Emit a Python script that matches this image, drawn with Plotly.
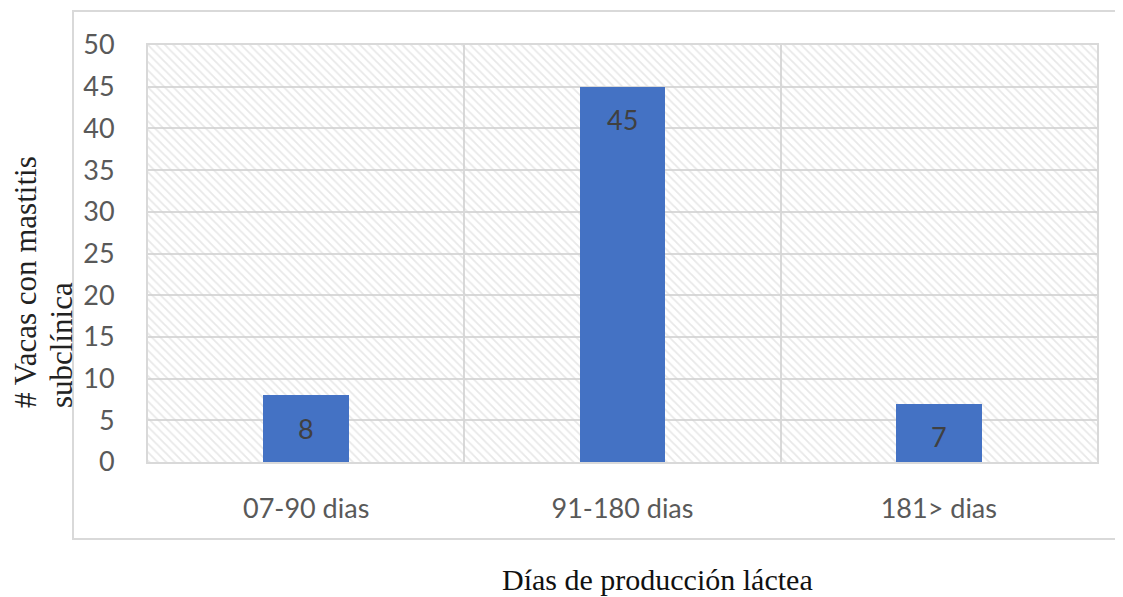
import plotly.graph_objects as go

categories = ["07-90 dias", "91-180 dias", "181> dias"]
values = [8, 45, 7]
y_ticks = [0, 5, 10, 15, 20, 25, 30, 35, 40, 45, 50]
y_title_line1 = "# Vacas con mastitis"
y_title_line2 = "subclínica"
x_title = "Días de producción láctea"

OFF = 8  # page body margin offset
W, H = 1123 - OFF, 597 - OFF
L, R, T, B = 148 - OFF, 26, 45 - OFF, 135
pw, ph = W - L - R, H - T - B

def px_x(p):
    return (p - OFF - L) / pw

def px_y(p):
    return (H - B - (p - OFF)) / ph

GRID = "#d9d9d9"
TICKFONT = dict(family="Lato", size=27, color="#595959")

fig = go.Figure()

# hatched plot-area background (drawn first, below the data bars)
fig.add_trace(go.Bar(
    x=[categories[1]], y=[y_ticks[-1]], width=[3.0],
    marker=dict(color="rgba(0,0,0,0)", line=dict(width=0),
                pattern=dict(shape="\\", fgcolor="#d2d2d2", size=6, solidity=0.3,
                             bgcolor="rgba(0,0,0,0)")),
    hoverinfo="skip", showlegend=False,
))

fig.add_trace(go.Bar(
    x=categories, y=values, width=0.27,
    marker=dict(color="#4472C4", line=dict(width=0)),
    showlegend=False,
))

for c, v in zip(categories, values):
    fig.add_annotation(x=c, y=v, yshift=-33, text=str(v), showarrow=False,
                       xanchor="center", yanchor="middle",
                       font=dict(family="Lato", size=27, color="#404040"))

fig.add_annotation(xref="paper", yref="paper", x=px_x(25), y=px_y(410),
                   text=y_title_line1, textangle=-90, showarrow=False,
                   xanchor="center", yanchor="bottom",
                   font=dict(family="Liberation Serif", size=31, color="#222222"))
fig.add_annotation(xref="paper", yref="paper", x=px_x(61), y=px_y(410),
                   text=y_title_line2, textangle=-90, showarrow=False,
                   xanchor="center", yanchor="bottom",
                   font=dict(family="Liberation Serif", size=31, color="#222222"))
fig.add_annotation(xref="paper", yref="paper", x=px_x(657), y=px_y(579),
                   text=x_title, showarrow=False, xanchor="center", yanchor="middle",
                   font=dict(family="Liberation Serif", size=30, color="#111111"))

# outer chart border
fig.add_shape(type="rect", xref="paper", yref="paper",
              x0=px_x(73), x1=px_x(1140), y0=px_y(539), y1=px_y(11),
              line=dict(color=GRID, width=2), fillcolor="rgba(0,0,0,0)", layer="below")

fig.update_layout(
    width=W, height=H,
    margin=dict(l=L, r=R, t=T, b=B, pad=0),
    paper_bgcolor="white", plot_bgcolor="white",
    barmode="overlay", bargap=0,
    xaxis=dict(type="category", categoryorder="array", categoryarray=categories,
               range=[-0.5, 2.5], tickson="boundaries",
               showgrid=True, gridcolor=GRID, gridwidth=2,
               showline=True, linecolor=GRID, linewidth=2, mirror=True,
               ticks="", tickfont=TICKFONT, ticklabelstandoff=22, zeroline=False),
    yaxis=dict(range=[0, 50], tickvals=y_ticks, showgrid=True, gridcolor=GRID, gridwidth=2,
               showline=True, linecolor=GRID, linewidth=2, mirror=True,
               ticks="", tickfont=TICKFONT, ticklabelstandoff=26, zeroline=False),
)

fig.write_html("out.html")
